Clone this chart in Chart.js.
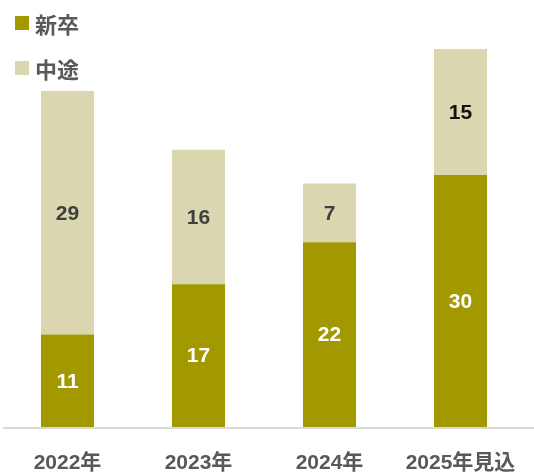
<!DOCTYPE html>
<html>
<head>
<meta charset="utf-8">
<script src="https://cdn.jsdelivr.net/npm/chart.js@4/dist/chart.umd.min.js"></script>
<style>
  html, body { margin: 0; padding: 0; background: #fff; }
  #wrap { position: relative; width: 534px; height: 472px; }
  #legend { position: absolute; left: 15px; top: 8px; font-family: 'Liberation Sans', 'Noto Sans CJK JP', sans-serif; font-weight: bold; font-size: 22px; color: #595959; }
  .item { display: flex; align-items: center; height: 30px; margin-bottom: 15px; }
  .box { width: 14px; height: 14px; margin-right: 6px; }
</style>
</head>
<body>
<div id="wrap">
  <canvas id="hiringChart" width="534" height="472"></canvas>
  <div id="legend"></div>
</div>
<script>
const years = ['2022年', '2023年', '2024年', '2025年見込'];
const newGrads = [11, 17, 22, 30];
const midCareer = [29, 16, 7, 15];
const seriesNames = ['新卒', '中途'];
const seriesColors = ['#a29800', '#dad6b0'];
const newGradLabelColors = ['#ffffff', '#ffffff', '#ffffff', '#ffffff'];
const midCareerLabelColors = ['#404040', '#404040', '#404040', '#111111'];

const FONT = "'Liberation Sans', 'Noto Sans CJK JP', sans-serif";

// draw each segment's value in the middle of its bar
const valueLabels = {
    id: 'valueLabels',
    afterDatasetsDraw(chart) {
        const ctx = chart.ctx;
        const colors = [newGradLabelColors, midCareerLabelColors];
        ctx.save();
        ctx.font = 'bold 21px ' + FONT;
        ctx.textAlign = 'center';
        ctx.textBaseline = 'middle';
        chart.data.datasets.forEach((ds, i) => {
            chart.getDatasetMeta(i).data.forEach((bar, j) => {
                const mid = (bar.y + bar.base) / 2;
                ctx.fillStyle = colors[i][j];
                ctx.fillText(ds.data[j], bar.x, mid + 1);
            });
        });
        ctx.restore();
    }
};

// baseline across the full width
const baseLine = {
    id: 'baseLine',
    afterDraw(chart) {
        const ctx = chart.ctx;
        const y = chart.scales.y.getPixelForValue(0);
        ctx.save();
        ctx.strokeStyle = '#d9d9d9';
        ctx.lineWidth = 2;
        ctx.beginPath();
        ctx.moveTo(3, y + 1);
        ctx.lineTo(534, y + 1);
        ctx.stroke();
        ctx.restore();
    }
};

function buildLegend() {
    const el = document.getElementById('legend');
    seriesNames.forEach((name, i) => {
        const item = document.createElement('div');
        item.className = 'item';
        item.innerHTML = '<span class="box" style="background:' + seriesColors[i] + '"></span>' + name;
        el.appendChild(item);
    });
}

function init() {
    const ctx = document.getElementById('hiringChart').getContext('2d');
    new Chart(ctx, {
        type: 'bar',
        data: {
            labels: years,
            datasets: [
                { label: seriesNames[0], data: newGrads, backgroundColor: seriesColors[0] },
                { label: seriesNames[1], data: midCareer, backgroundColor: seriesColors[1] },
            ],
        },
        options: {
            responsive: false,
            animation: false,
            layout: { padding: { top: 7, left: 2, right: 8, bottom: 0 } },
            datasets: { bar: { barPercentage: 0.405, categoryPercentage: 1 } },
            plugins: {
                legend: { display: false },
                tooltip: { enabled: false },
            },
            scales: {
                x: {
                    stacked: true,
                    grid: { display: false, drawTicks: false },
                    border: { display: false },
                    ticks: { color: '#595959', font: { family: FONT, size: 21, weight: 'bold' }, padding: 24 },
                    afterFit(axis) {
                        axis.height = 45;
                        axis.paddingLeft = 0;
                        axis.paddingRight = 0;
                    },
                },
                y: {
                    stacked: true,
                    display: false,
                    min: 0,
                    max: 50,
                },
            },
        },
        plugins: [valueLabels, baseLine],
    });
    buildLegend();
}

window.onload = init;
</script>
</body>
</html>
